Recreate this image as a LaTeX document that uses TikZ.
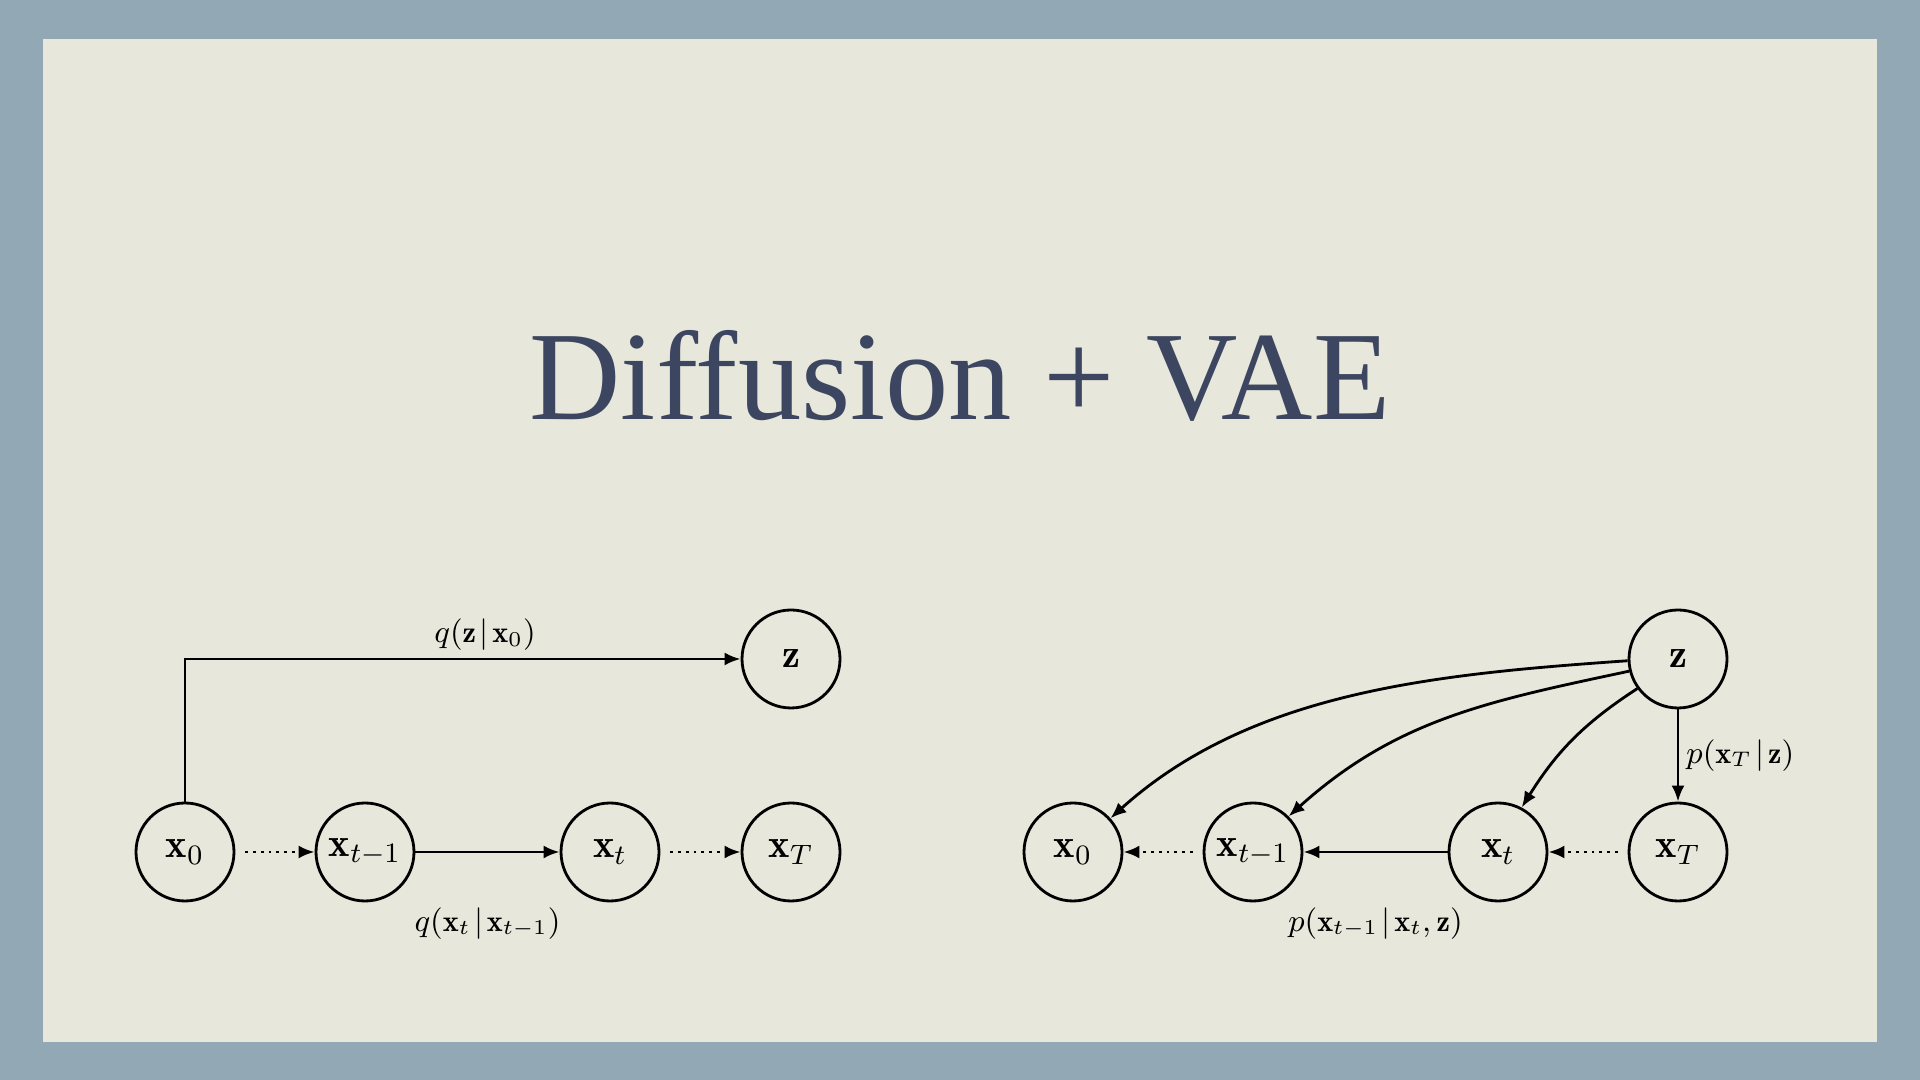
\documentclass[tikz,border=0pt]{standalone}
\usepackage{amsmath}
\usepackage{fontspec}
\newfontfamily\titlefont{Liberation Serif}
\usepackage{tikz}
\usetikzlibrary{arrows,arrows.meta,positioning}
\definecolor{frameblue}{RGB}{146,168,180}
\definecolor{parchment}{RGB}{231,231,219}
\definecolor{titleblue}{RGB}{60,70,96}
\newcommand{\given}{\mskip2mu|\mskip2mu}
\tikzset{var/.style={draw,circle,line width=0.8pt,minimum size=0.98cm,inner sep=0pt,font=\fontsize{11.5}{13}\selectfont},
lbl/.style={font=\fontsize{8.6}{10}\selectfont,inner sep=2pt},
link/.style={line width=0.8pt,->,> = {Latex[length=1.6mm,width=1.3mm]}},
dotlink/.style={link,dash pattern=on 0.8pt off 1.4pt,shorten <=0.1cm}}
\begin{document}
\begin{tikzpicture}%diffusion with a latent z
\useasboundingbox (0,0) rectangle (19.2,10.8);
%frame and paper
\fill[frameblue] (0,0) rectangle (19.2,10.8);
\fill[parchment] (0.43,0.38) rectangle (18.77,10.41);
\node[font=\titlefont\fontsize{36}{40}\selectfont,text=titleblue,anchor=base] (title) at (9.6,6.6) {Diffusion + VAE};
%forward chain and encoder
\node[var] (x0) at (1.85,2.28) {$\mathbf{x}_0$};
\node[var] (xt1) at (3.65,2.28) {$\mathbf{x}_{t-1}$};
\node[var] (xt) at (6.10,2.28) {$\mathbf{x}_t$};
\node[var] (xT) at (7.91,2.28) {$\mathbf{x}_T$};
\node[var] (z) at (7.91,4.21) {$\mathbf{z}$};
\draw[dotlink] (x0) -- (xt1); \draw[dotlink] (xt) -- (xT);
\draw[link] (xt1) -- (xt) node[lbl,midway,below=0.47cm] (qxt) {$q(\mathbf{x}_t\given\mathbf{x}_{t-1})$};
\draw[link] (x0.north) |- (z.west) node[lbl,pos=0.77,above] (qz) {$q(\mathbf{z}\given\mathbf{x}_0)$};
%reverse chain and decoder
\node[var] (px0) at (10.73,2.28) {$\mathbf{x}_0$};
\node[var] (pxt1) at (12.53,2.28) {$\mathbf{x}_{t-1}$};
\node[var] (pxt) at (14.98,2.28) {$\mathbf{x}_t$};
\node[var] (pxT) at (16.78,2.28) {$\mathbf{x}_T$};
\node[var] (pz) at (16.78,4.21) {$\mathbf{z}$};
\draw[dotlink] (pxT) -- (pxt); \draw[dotlink] (pxt1) -- (px0);
\draw[link] (pxt) -- (pxt1) node[lbl,midway,below=0.47cm] (pxt1z) {$p(\mathbf{x}_{t-1}\given\mathbf{x}_t,\mathbf{z})$};
\draw[link] (pz) -- (pxT) node[lbl,midway,right] (pxTz) {$p(\mathbf{x}_T\given\mathbf{z})$};
\draw[link] (pz.182) to[out=184,in=42,looseness=0.9] (px0.42);
\draw[link] (pz.194) to[out=192,in=42] (pxt1.45);
\draw[link] (pz.216) to[out=213,in=58] (pxt.62);
\end{tikzpicture}
\end{document}
